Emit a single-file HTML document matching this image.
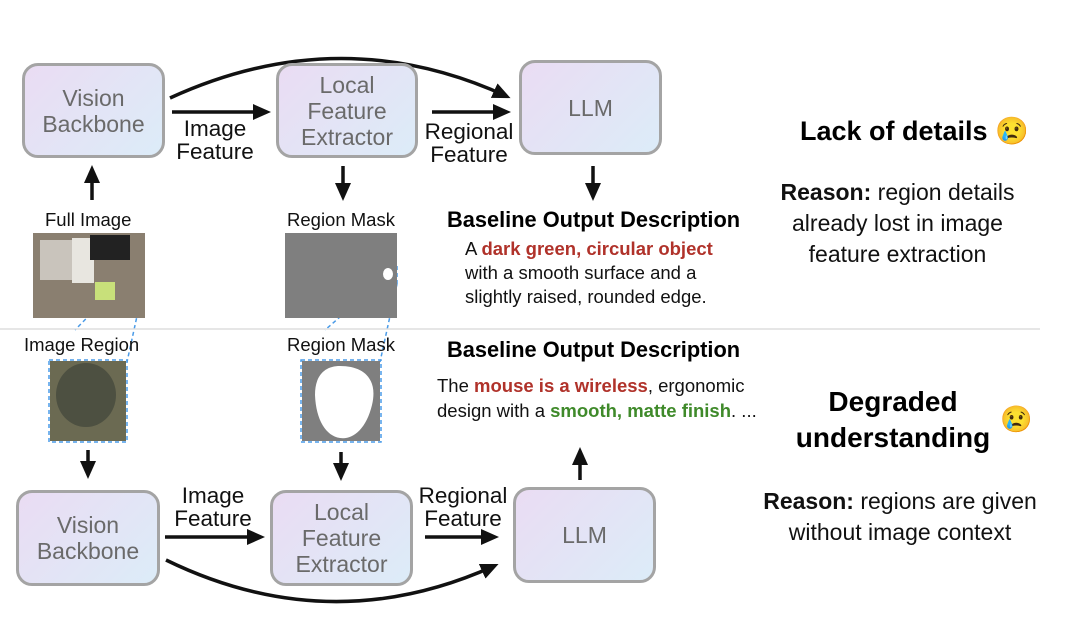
<!DOCTYPE html>
<html><head><style>
body{margin:0;width:1080px;height:627px;background:#fff;position:relative;overflow:hidden;font-family:"Liberation Sans",sans-serif}
.box{position:absolute;border:3px solid #a4a4a4;border-radius:16px;background:linear-gradient(135deg,#eadcf3,#dcecf8);color:#6a6a6a;font-size:23px;line-height:26px;display:flex;align-items:center;justify-content:center;text-align:center;box-sizing:border-box}
.t{position:absolute;white-space:nowrap}
.lbl{font-size:22.5px;line-height:23px;text-align:center;color:#111}
.sm{font-size:18.5px;color:#111}
.red{color:#b0322a;font-weight:bold}.grn{color:#3f8a2a;font-weight:bold}
</style></head><body>
<svg width="1080" height="627" style="position:absolute;left:0;top:0">
<defs><marker id="a" markerWidth="20" markerHeight="20" refX="13" refY="10" orient="auto" markerUnits="userSpaceOnUse"><path d="M0,2 L18,10 L0,18 Z" fill="#111"/></marker></defs>
<g stroke="#111" stroke-width="3.5" fill="none" marker-end="url(#a)">
<path d="M172,112 H266"/><path d="M432,112 H506"/>
<path d="M170,98 Q340,20 506,96"/>
<path d="M92,200 V170"/><path d="M343,166 V196"/><path d="M593,166 V196"/>
<path d="M88,450 V474"/><path d="M341,452 V476"/><path d="M580,480 V452"/>
<path d="M165,537 H260"/><path d="M425,537 H494"/>
<path d="M166,560 Q330,640 494,566"/>
</g>
<g stroke="#4a9be8" stroke-width="1.5" stroke-dasharray="4,3" fill="none">
<rect x="120" y="262" width="24" height="22"/>
<line x1="144" y1="284" x2="127" y2="362"/><line x1="120" y1="284" x2="75" y2="330"/>
<rect x="378" y="264" width="19" height="20"/>
<line x1="378" y1="284" x2="325" y2="330"/><line x1="397" y1="284" x2="380" y2="362"/>
<rect x="49" y="360" width="78" height="82"/>
<rect x="301" y="360" width="80" height="82"/>
</g>
<line x1="0" y1="329" x2="1040" y2="329" stroke="#ddd" stroke-width="1.5"/>
<rect x="33" y="233" width="112" height="85" fill="#8a7f70"/>
<rect x="40" y="240" width="35" height="40" fill="#c9c4bc"/><rect x="72" y="238" width="22" height="45" fill="#e8e6e0"/>
<rect x="90" y="235" width="40" height="25" fill="#222"/><rect x="95" y="282" width="20" height="18" fill="#c8e07a"/>
<rect x="285" y="233" width="112" height="85" fill="#7f7f7f"/><ellipse cx="388" cy="274" rx="5" ry="6" fill="#fff"/>
<rect x="50" y="361" width="76" height="80" fill="#6b6a52"/><ellipse cx="86" cy="395" rx="30" ry="32" fill="#4d5041"/>
<rect x="302" y="361" width="78" height="80" fill="#7f7f7f"/><path d="M340,366 C365,366 378,380 372,405 C366,430 352,440 340,438 C326,436 316,420 315,395 C315,375 325,366 340,366 Z" fill="#fff"/>
</svg>
<div class="box" style="left:22px;top:63px;width:143px;height:95px">Vision<br>Backbone</div>
<div class="box" style="left:276px;top:63px;width:142px;height:95px">Local<br>Feature<br>Extractor</div>
<div class="box" style="left:519px;top:60px;width:143px;height:95px">LLM</div>
<div class="box" style="left:16px;top:490px;width:144px;height:96px">Vision<br>Backbone</div>
<div class="box" style="left:270px;top:490px;width:143px;height:96px">Local<br>Feature<br>Extractor</div>
<div class="box" style="left:513px;top:487px;width:143px;height:96px">LLM</div>
<div class="t lbl" style="left:170px;top:117px;width:90px">Image<br>Feature</div>
<div class="t lbl" style="left:418px;top:120px;width:102px">Regional<br>Feature</div>
<div class="t lbl" style="left:166px;top:484px;width:94px">Image<br>Feature</div>
<div class="t lbl" style="left:412px;top:484px;width:102px">Regional<br>Feature</div>
<div class="t sm" style="left:45px;top:209px">Full Image</div>
<div class="t sm" style="left:287px;top:209px">Region Mask</div>
<div class="t sm" style="left:24px;top:334px">Image Region</div>
<div class="t sm" style="left:287px;top:334px">Region Mask</div>
<div class="t" style="left:447px;top:207px;font-size:21.8px;font-weight:bold">Baseline Output Description</div>
<div class="t" style="left:447px;top:337px;font-size:21.8px;font-weight:bold">Baseline Output Description</div>
<div class="t sm" style="left:465px;top:237px;line-height:24px">A <span class="red">dark green, circular object</span><br>with a smooth surface and a<br>slightly raised, rounded edge.</div>
<div class="t sm" style="left:437px;top:373px;line-height:25px">The <span class="red">mouse is a wireless</span>, ergonomic<br>design with a <span class="grn">smooth, matte finish</span>. ...</div>
<div class="t" style="left:800px;top:115px;font-size:27px;font-weight:bold">Lack of details <span>😢</span></div>
<div class="t" style="left:760px;top:177px;width:275px;text-align:center;font-size:23px;line-height:31px;color:#111"><b>Reason:</b> region details<br>already lost in image<br>feature extraction</div>
<div class="t" style="left:780px;top:384px;width:226px;text-align:center;font-size:28px;line-height:36px;font-weight:bold">Degraded<br>understanding</div>
<div class="t" style="left:1000px;top:404px;font-size:26px">😢</div>
<div class="t" style="left:750px;top:486px;width:300px;text-align:center;font-size:23px;line-height:31px;color:#111"><b>Reason:</b> regions are given<br>without image context</div>
</body></html>
